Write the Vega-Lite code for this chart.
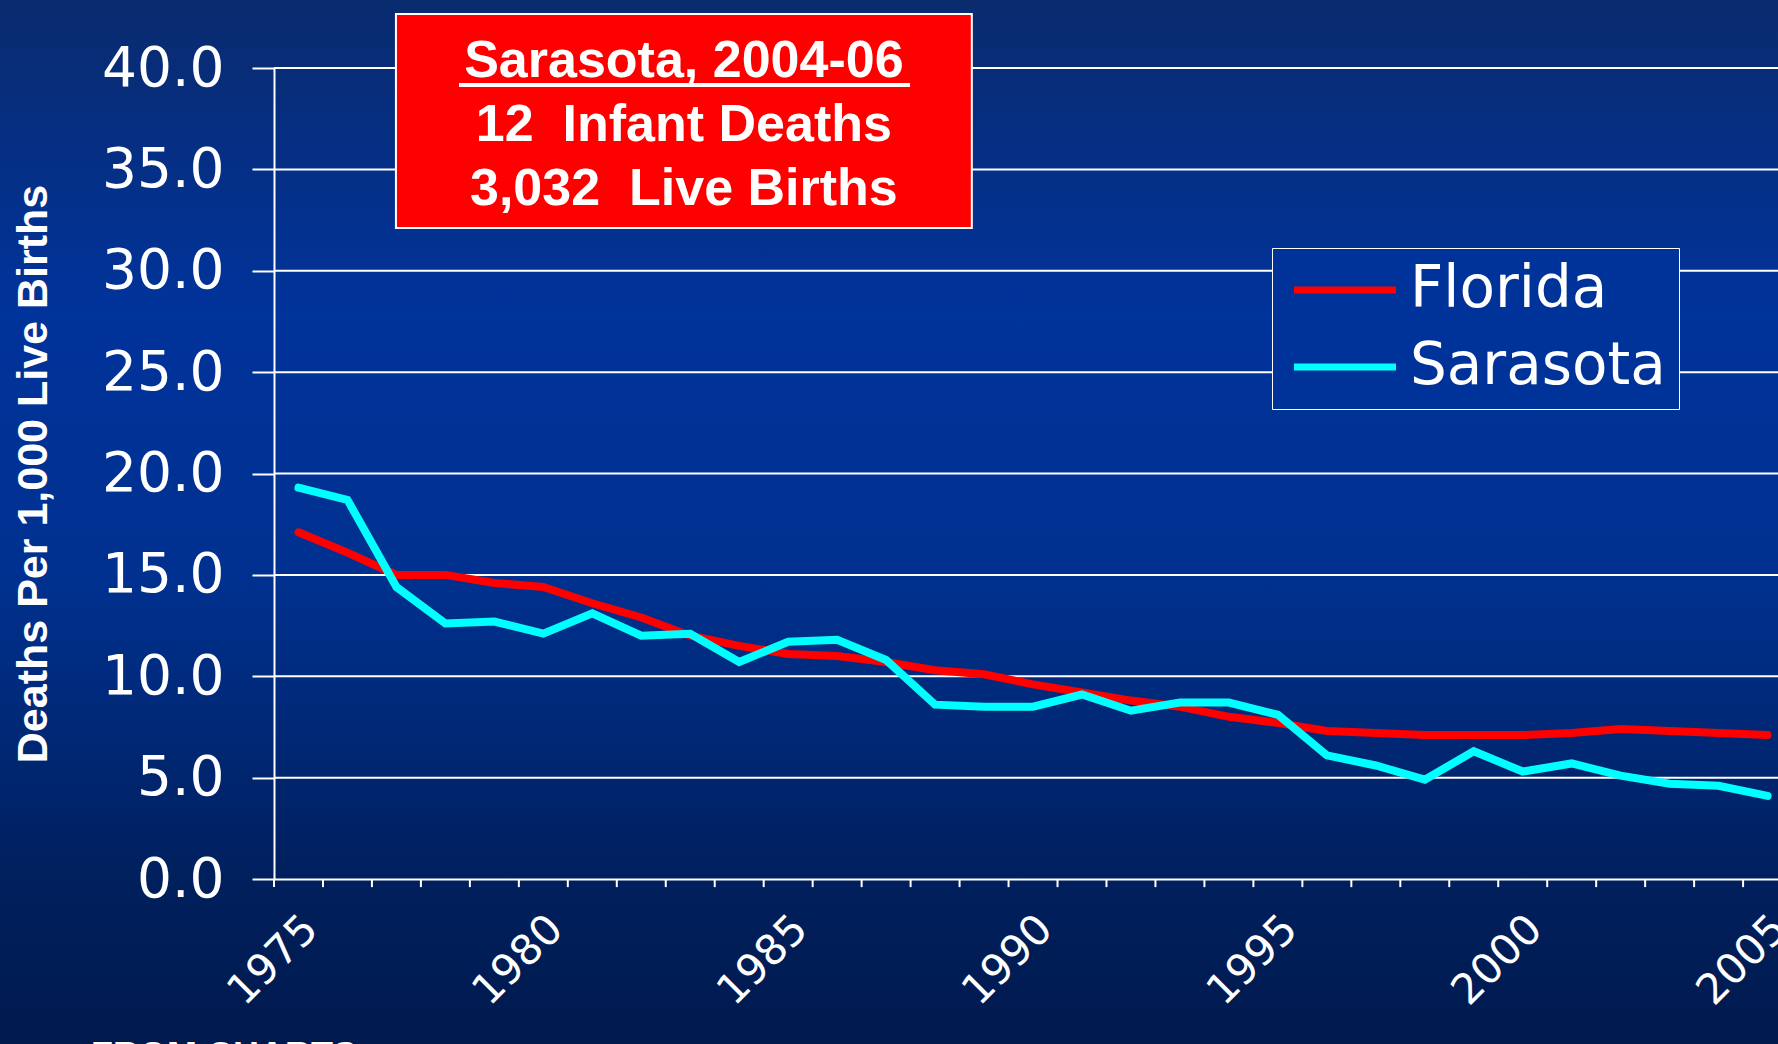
{
  "$schema": "https://vega.github.io/schema/vega-lite/v6.json",
  "width": 1504,
  "height": 811,
  "autosize": {"type": "none"},
  "padding": {"left": 274, "top": 68, "right": 0, "bottom": 165},
  "background": "#00246a",
  "config": {
    "view": {"stroke": null},
    "font": "DejaVu Sans",
    "axisY": {
      "grid": false,
      "domainColor": "#ffffff",
      "domainWidth": 2,
      "tickColor": "#ffffff",
      "tickWidth": 2,
      "tickSize": 22,
      "labelColor": "#ffffff",
      "labelFont": "DejaVu Sans",
      "labelFontSize": 55,
      "labelPadding": 28,
      "titleColor": "#ffffff",
      "titleFont": "Liberation Sans",
      "titleFontWeight": "bold",
      "titleFontSize": 43,
      "titlePadding": 46
    }
  },
  "data": {
    "values": [
      {"year": 1975, "series": "Florida", "rate": 17.1},
      {"year": 1976, "series": "Florida", "rate": 16.1},
      {"year": 1977, "series": "Florida", "rate": 15.0},
      {"year": 1978, "series": "Florida", "rate": 15.0},
      {"year": 1979, "series": "Florida", "rate": 14.6},
      {"year": 1980, "series": "Florida", "rate": 14.4},
      {"year": 1981, "series": "Florida", "rate": 13.6},
      {"year": 1982, "series": "Florida", "rate": 12.9},
      {"year": 1983, "series": "Florida", "rate": 12.0},
      {"year": 1984, "series": "Florida", "rate": 11.5},
      {"year": 1985, "series": "Florida", "rate": 11.1},
      {"year": 1986, "series": "Florida", "rate": 11.0},
      {"year": 1987, "series": "Florida", "rate": 10.7},
      {"year": 1988, "series": "Florida", "rate": 10.3},
      {"year": 1989, "series": "Florida", "rate": 10.1},
      {"year": 1990, "series": "Florida", "rate": 9.6},
      {"year": 1991, "series": "Florida", "rate": 9.2},
      {"year": 1992, "series": "Florida", "rate": 8.8},
      {"year": 1993, "series": "Florida", "rate": 8.5},
      {"year": 1994, "series": "Florida", "rate": 8.0},
      {"year": 1995, "series": "Florida", "rate": 7.7},
      {"year": 1996, "series": "Florida", "rate": 7.3},
      {"year": 1997, "series": "Florida", "rate": 7.2},
      {"year": 1998, "series": "Florida", "rate": 7.1},
      {"year": 1999, "series": "Florida", "rate": 7.1},
      {"year": 2000, "series": "Florida", "rate": 7.1},
      {"year": 2001, "series": "Florida", "rate": 7.2},
      {"year": 2002, "series": "Florida", "rate": 7.4},
      {"year": 2003, "series": "Florida", "rate": 7.3},
      {"year": 2004, "series": "Florida", "rate": 7.2},
      {"year": 2005, "series": "Florida", "rate": 7.1},
      {"year": 1975, "series": "Sarasota", "rate": 19.3},
      {"year": 1976, "series": "Sarasota", "rate": 18.7},
      {"year": 1977, "series": "Sarasota", "rate": 14.4},
      {"year": 1978, "series": "Sarasota", "rate": 12.6},
      {"year": 1979, "series": "Sarasota", "rate": 12.7},
      {"year": 1980, "series": "Sarasota", "rate": 12.1},
      {"year": 1981, "series": "Sarasota", "rate": 13.1},
      {"year": 1982, "series": "Sarasota", "rate": 12.0},
      {"year": 1983, "series": "Sarasota", "rate": 12.1},
      {"year": 1984, "series": "Sarasota", "rate": 10.7},
      {"year": 1985, "series": "Sarasota", "rate": 11.7},
      {"year": 1986, "series": "Sarasota", "rate": 11.8},
      {"year": 1987, "series": "Sarasota", "rate": 10.8},
      {"year": 1988, "series": "Sarasota", "rate": 8.6},
      {"year": 1989, "series": "Sarasota", "rate": 8.5},
      {"year": 1990, "series": "Sarasota", "rate": 8.5},
      {"year": 1991, "series": "Sarasota", "rate": 9.1},
      {"year": 1992, "series": "Sarasota", "rate": 8.3},
      {"year": 1993, "series": "Sarasota", "rate": 8.7},
      {"year": 1994, "series": "Sarasota", "rate": 8.7},
      {"year": 1995, "series": "Sarasota", "rate": 8.1},
      {"year": 1996, "series": "Sarasota", "rate": 6.1},
      {"year": 1997, "series": "Sarasota", "rate": 5.6},
      {"year": 1998, "series": "Sarasota", "rate": 4.9},
      {"year": 1999, "series": "Sarasota", "rate": 6.3},
      {"year": 2000, "series": "Sarasota", "rate": 5.3},
      {"year": 2001, "series": "Sarasota", "rate": 5.7},
      {"year": 2002, "series": "Sarasota", "rate": 5.1},
      {"year": 2003, "series": "Sarasota", "rate": 4.7},
      {"year": 2004, "series": "Sarasota", "rate": 4.6},
      {"year": 2005, "series": "Sarasota", "rate": 4.1}
    ]
  },
  "layer": [
    {
      "data": {"values": [{}]},
      "mark": {
        "type": "rect",
        "clip": false,
        "fill": {
          "gradient": "linear",
          "x1": 0, "y1": 0, "x2": 0, "y2": 1,
          "stops": [
            {"offset": 0, "color": "#0a2b6e"},
            {"offset": 0.3, "color": "#00339b"},
            {"offset": 0.55, "color": "#003190"},
            {"offset": 0.85, "color": "#001f5c"},
            {"offset": 1, "color": "#001a4e"}
          ]
        }
      },
      "encoding": {
        "x": {"datum": 1960, "type": "quantitative", "scale": {"domain": [1974.5, 2005.213], "nice": false, "zero": false}},
        "x2": {"datum": 2020},
        "y": {"datum": 43.354, "type": "quantitative", "scale": {"domain": [0, 40], "nice": false, "zero": false}},
        "y2": {"datum": -8.138}
      }
    },
    {
      "data": {"values": [{"g": 5}, {"g": 10}, {"g": 15}, {"g": 20}, {"g": 25}, {"g": 30}, {"g": 35}, {"g": 40}]},
      "mark": {"type": "rule", "color": "#ffffff", "strokeWidth": 2, "clip": false},
      "encoding": {
        "x": {"datum": 1974.5, "type": "quantitative", "scale": {"domain": [1974.5, 2005.213], "nice": false, "zero": false}},
        "x2": {"datum": 2006},
        "y": {"field": "g", "type": "quantitative", "title": "Deaths Per 1,000 Live Births", "scale": {"domain": [0, 40], "nice": false, "zero": false}}
      }
    },
    {
      "data": {"values": [{"b": 1974.5}, {"b": 1975.5}, {"b": 1976.5}, {"b": 1977.5}, {"b": 1978.5}, {"b": 1979.5}, {"b": 1980.5}, {"b": 1981.5}, {"b": 1982.5}, {"b": 1983.5}, {"b": 1984.5}, {"b": 1985.5}, {"b": 1986.5}, {"b": 1987.5}, {"b": 1988.5}, {"b": 1989.5}, {"b": 1990.5}, {"b": 1991.5}, {"b": 1992.5}, {"b": 1993.5}, {"b": 1994.5}, {"b": 1995.5}, {"b": 1996.5}, {"b": 1997.5}, {"b": 1998.5}, {"b": 1999.5}, {"b": 2000.5}, {"b": 2001.5}, {"b": 2002.5}, {"b": 2003.5}, {"b": 2004.5}]},
      "mark": {"type": "rule", "color": "#ffffff", "strokeWidth": 2, "clip": false},
      "encoding": {
        "x": {"field": "b", "type": "quantitative", "scale": {"domain": [1974.5, 2005.213], "nice": false, "zero": false}},
        "y": {"datum": 0, "type": "quantitative"},
        "y2": {"datum": -0.4}
      }
    },
    {
      "data": {"values": [{}]},
      "mark": {"type": "rect", "fill": "#ff0000", "stroke": "#ffffff", "strokeWidth": 2, "clip": false},
      "encoding": {
        "x": {"datum": 1976.99, "type": "quantitative"},
        "x2": {"datum": 1988.75},
        "y": {"datum": 42.663, "type": "quantitative"},
        "y2": {"datum": 32.109}
      }
    },
    {
      "data": {"values": [{"t": "Sarasota, 2004-06"}]},
      "mark": {"type": "text", "color": "#ffffff", "font": "Liberation Sans", "fontWeight": "bold", "fontSize": 52, "align": "center", "baseline": "alphabetic", "clip": false},
      "encoding": {
        "x": {"datum": 1982.87, "type": "quantitative"},
        "y": {"datum": 39.556, "type": "quantitative"},
        "text": {"field": "t"}
      }
    },
    {
      "data": {"values": [{}]},
      "mark": {"type": "rule", "color": "#ffffff", "strokeWidth": 4, "clip": false},
      "encoding": {
        "x": {"datum": 1978.278, "type": "quantitative"},
        "x2": {"datum": 1987.488},
        "y": {"datum": 39.161, "type": "quantitative"}
      }
    },
    {
      "data": {"values": [{"t": "12\u00a0\u00a0Infant Deaths"}]},
      "mark": {"type": "text", "color": "#ffffff", "font": "Liberation Sans", "fontWeight": "bold", "fontSize": 52, "align": "center", "baseline": "alphabetic", "clip": false},
      "encoding": {
        "x": {"datum": 1982.87, "type": "quantitative"},
        "y": {"datum": 36.4, "type": "quantitative"},
        "text": {"field": "t"}
      }
    },
    {
      "data": {"values": [{"t": "3,032\u00a0\u00a0Live Births"}]},
      "mark": {"type": "text", "color": "#ffffff", "font": "Liberation Sans", "fontWeight": "bold", "fontSize": 52, "align": "center", "baseline": "alphabetic", "clip": false},
      "encoding": {
        "x": {"datum": 1982.87, "type": "quantitative"},
        "y": {"datum": 33.243, "type": "quantitative"},
        "text": {"field": "t"}
      }
    },
    {
      "mark": {"type": "line", "strokeWidth": 8, "strokeCap": "round", "strokeJoin": "miter"},
      "encoding": {
        "x": {
          "field": "year",
          "type": "quantitative",
          "scale": {"domain": [1974.5, 2005.213], "nice": false, "zero": false},
          "axis": {
            "title": null,
            "zindex": 2,
            "grid": false,
            "values": [1975, 1980, 1985, 1990, 1995, 2000, 2005],
            "format": "d",
            "ticks": false,
            "domainColor": "#ffffff",
            "domainWidth": 2,
            "labelColor": "#ffffff",
            "labelFont": "DejaVu Sans",
            "labelFontSize": 42,
            "labelAngle": -45,
            "labelAlign": "right",
            "labelBaseline": "middle",
            "labelPadding": 43,
            "labelOffset": 12,
            "labelOverlap": false,
            "labelFlush": false
          }
        },
        "y": {
          "field": "rate",
          "type": "quantitative",
          "scale": {"domain": [0, 40], "nice": false, "zero": false},
          "axis": {
            "title": "Deaths Per 1,000 Live Births",
            "zindex": 2,
            "values": [0, 5, 10, 15, 20, 25, 30, 35, 40],
            "format": ".1f"
          }
        },
        "color": {
          "field": "series",
          "type": "nominal",
          "scale": {"domain": ["Florida", "Sarasota"], "range": ["#ff0000", "#00ffff"]},
          "legend": {
            "title": null,
            "orient": "none",
            "legendX": 998,
            "legendY": 180,
            "zindex": 2,
            "fillColor": "#003399",
            "strokeColor": "#ffffff",
            "padding": 13,
            "rowPadding": 19,
            "symbolType": "M-2.5,0H2.5",
            "symbolSize": 1665,
            "symbolOffset": 31,
            "symbolStrokeWidth": 7,
            "labelOffset": 36,
            "labelColor": "#ffffff",
            "labelFont": "DejaVu Sans",
            "labelFontSize": 58,
            "labelLimit": 400
          }
        }
      }
    },
    {
      "data": {"values": [{"t": "FROM CHARTS"}]},
      "mark": {"type": "text", "color": "#ffffff", "font": "Liberation Sans", "fontWeight": "bold", "fontSize": 36, "align": "left", "baseline": "top", "clip": false},
      "encoding": {
        "x": {"datum": 1970.763, "type": "quantitative"},
        "y": {"datum": -7.92, "type": "quantitative"},
        "text": {"field": "t"}
      }
    }
  ]
}
